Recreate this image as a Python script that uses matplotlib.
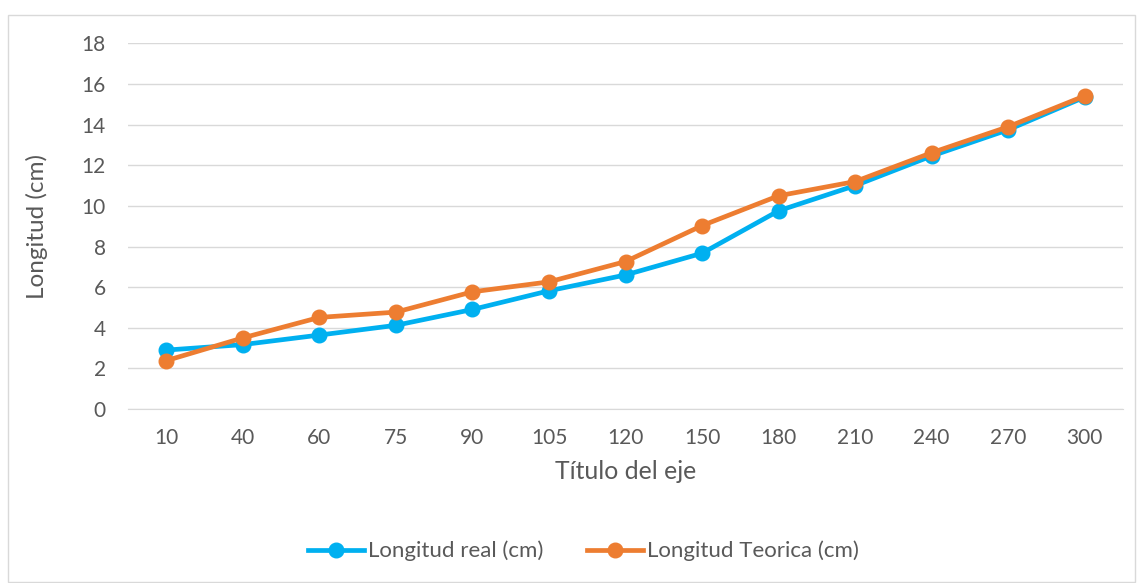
import matplotlib.pyplot as plt
from matplotlib.patches import Rectangle

# categories on the x axis
angulos = ['10', '40', '60', '75', '90', '105', '120', '150', '180', '210', '240', '270', '300']
# measured values
longitud_real = [2.9, 3.17, 3.64, 4.12, 4.9, 5.82, 6.6, 7.67, 9.76, 11.0, 12.46, 13.75, 15.36]
# theoretical values
longitud_teorica = [2.38, 3.5, 4.51, 4.77, 5.77, 6.26, 7.26, 9.03, 10.5, 11.2, 12.62, 13.9, 15.42]
y_ticks = [0, 2, 4, 6, 8, 10, 12, 14, 16, 18]

plt.rcParams['font.family'] = ['Lato', 'DejaVu Sans']
gris = '#595959'

fig = plt.figure(figsize=(11.38, 5.83), dpi=100)
ax = fig.add_axes([128 / 1138, 0.2985, 995 / 1138, 0.6269])

# outer chart border like in excel
fig.patches.append(Rectangle((8 / 1138, 1 / 583), 1127 / 1138, 567 / 583,
                             transform=fig.transFigure, fill=False,
                             edgecolor='#d9d9d9', linewidth=1))

x = list(range(len(angulos)))
ax.plot(x, longitud_real, color='#00B0F0', lw=3.4, marker='o', ms=10.5,
        label='Longitud real (cm)', zorder=3)
ax.plot(x, longitud_teorica, color='#ED7D31', lw=3.4, marker='o', ms=10.5,
        label='Longitud Teorica (cm)', zorder=4)

ax.set_xlim(-0.5, len(angulos) - 0.5)
ax.set_ylim(0, 18)
ax.set_yticks(y_ticks)
ax.set_xticks(x)
ax.set_xticklabels(angulos)
ax.grid(axis='y', color='#d9d9d9', lw=1)
ax.set_axisbelow(True)
for s in ['top', 'right', 'left']:
    ax.spines[s].set_visible(False)
ax.spines['bottom'].set_color('#d9d9d9')
ax.tick_params(length=0, labelsize=15, colors=gris)
ax.tick_params(axis='y', pad=16)
ax.tick_params(axis='x', pad=14)

ax.set_xlabel('Título del eje', fontsize=17.8, color=gris, labelpad=8)
ax.set_ylabel('Longitud (cm)', fontsize=17.5, color=gris, labelpad=24)

fig.legend(*ax.get_legend_handles_labels(), loc='center',
           bbox_to_anchor=(583.5 / 1138, 1 - 551 / 583), ncol=2, frameon=False,
           fontsize=16, labelcolor=gris, handlelength=2.5, handletextpad=0.18,
           columnspacing=2.0)

fig.savefig('out.png', dpi=100)
